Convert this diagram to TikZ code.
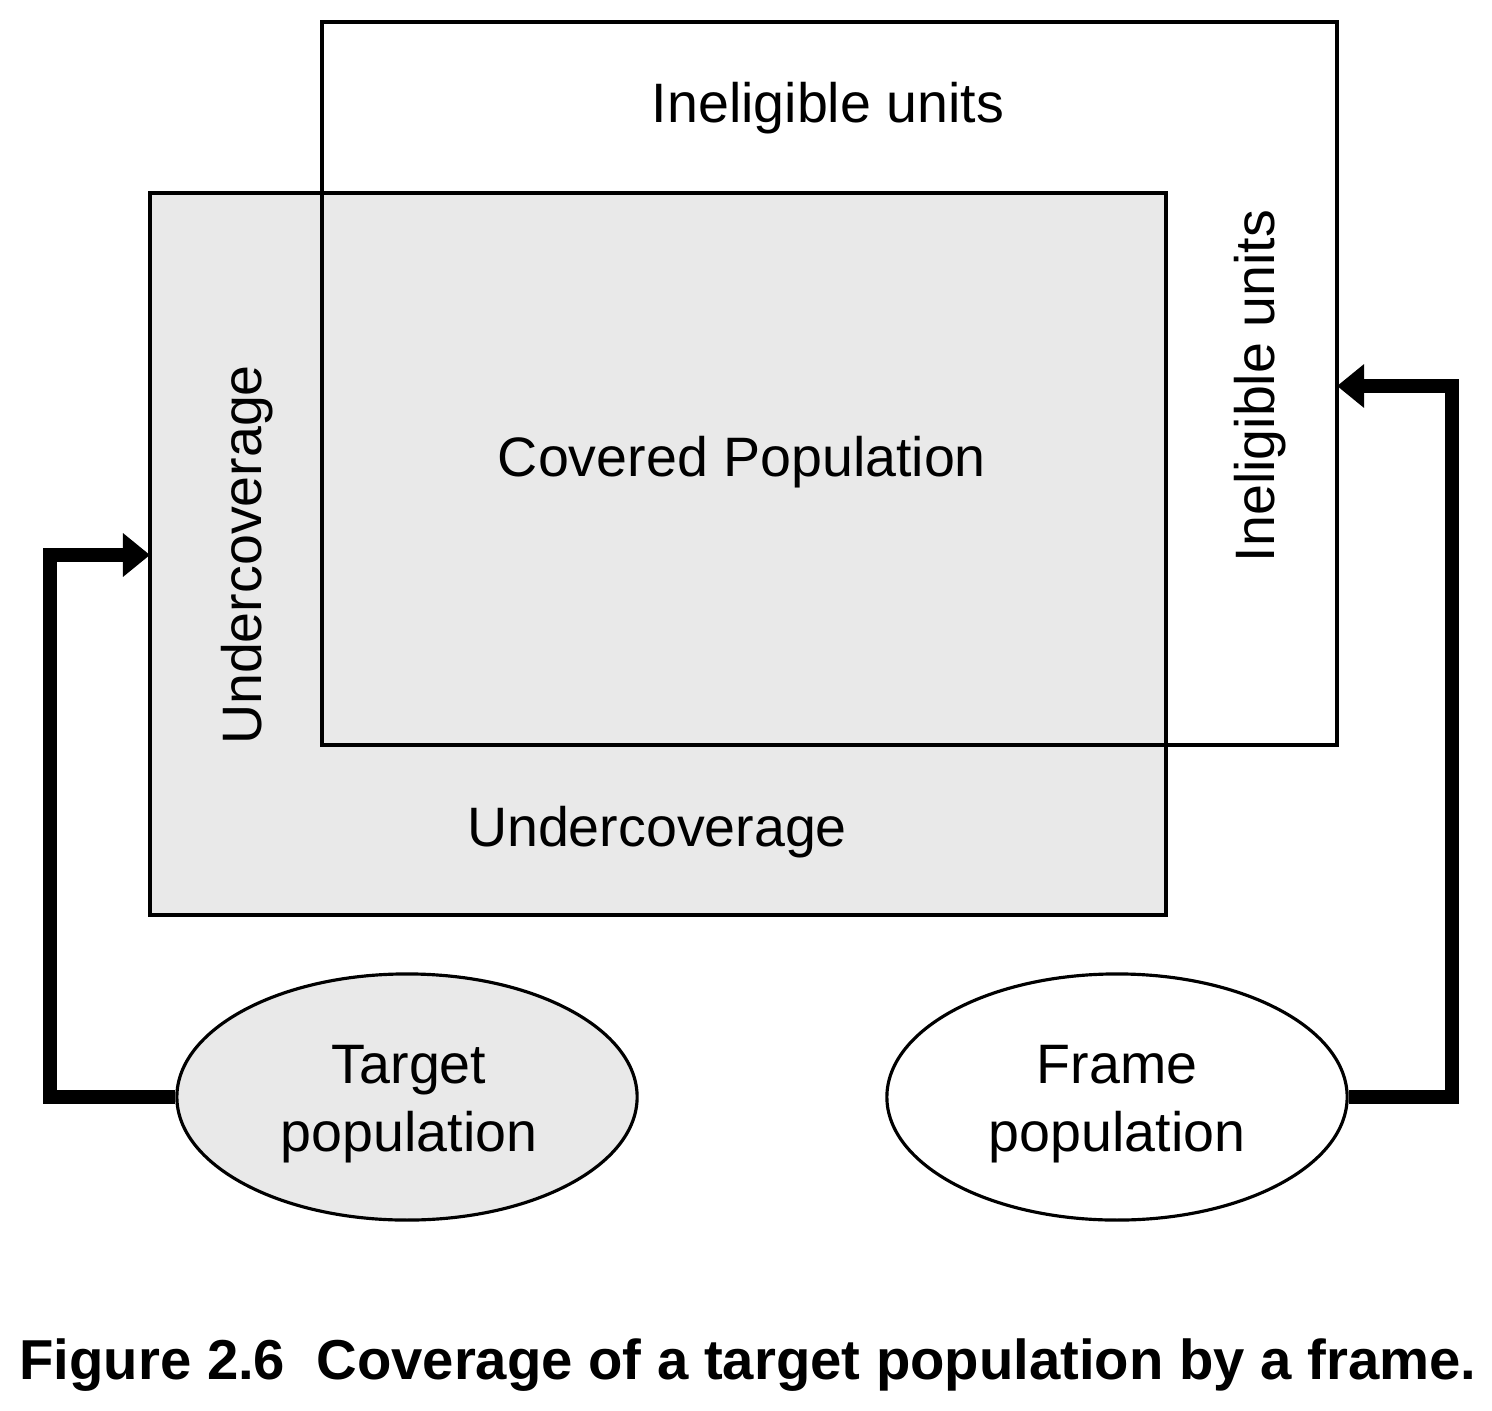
\documentclass[tikz,border=0pt]{standalone}
\usepackage{fontspec}
\setmainfont{Liberation Sans}
\usepackage{tikz}
\usetikzlibrary{shapes.geometric,arrows.meta}
\definecolor{shade}{gray}{0.915}
\tikzstyle{region} = [draw, line width=0.9pt]
\tikzstyle{label} = [font=\fontsize{15.8}{19.3}\selectfont, inner sep=0pt]
\tikzstyle{pop} = [ellipse, draw, line width=0.9pt, minimum width=4.6cm, minimum height=2.46cm]
\tikzstyle{link} = [line width=3.8pt, -{Triangle[length=0.27cm,width=0.42cm]}]

\begin{document}
\begin{tikzpicture}[x=0.01cm, y=-0.01cm]
    \useasboundingbox (0,0) rectangle (1492,1410);
    % target population and frame
    \filldraw[region, fill=shade] (150,193) rectangle (1166,915);
    \draw[region] (322,22) rectangle (1337,745);
    \node[label] (inelig top) at (828,108) {Ineligible units};
    \node[label, rotate=90] (inelig side) at (1260,386) {Ineligible units};
    \node[label] (covered) at (742,462) {Covered Population};
    \node[label, rotate=90] (under side) at (247,555) {Undercoverage};
    \node[label] (under bottom) at (657,832) {Undercoverage};
    % the two populations
    \node[pop, fill=shade] (target) at (407,1097) {};
    \node[pop] (frame) at (1117,1097) {};
    \node[label, align=center] (target text) at (409,1104) {Target\\population};
    \node[label, align=center] (frame text) at (1117,1104) {Frame\\population};
    \coordinate (target in) at (150,555);
    \coordinate (frame in) at (1337,386);
    \draw[link] (target.west) -| (50,555) -- (target in);
    \draw[link] (frame.east) -| (1452,386) -- (frame in);
    \node[font=\fontsize{16}{19}\selectfont\bfseries, inner sep=0pt] (caption) at (748,1365) {Figure 2.6\ \ Coverage of a target population by a frame.};
\end{tikzpicture}
\end{document}
